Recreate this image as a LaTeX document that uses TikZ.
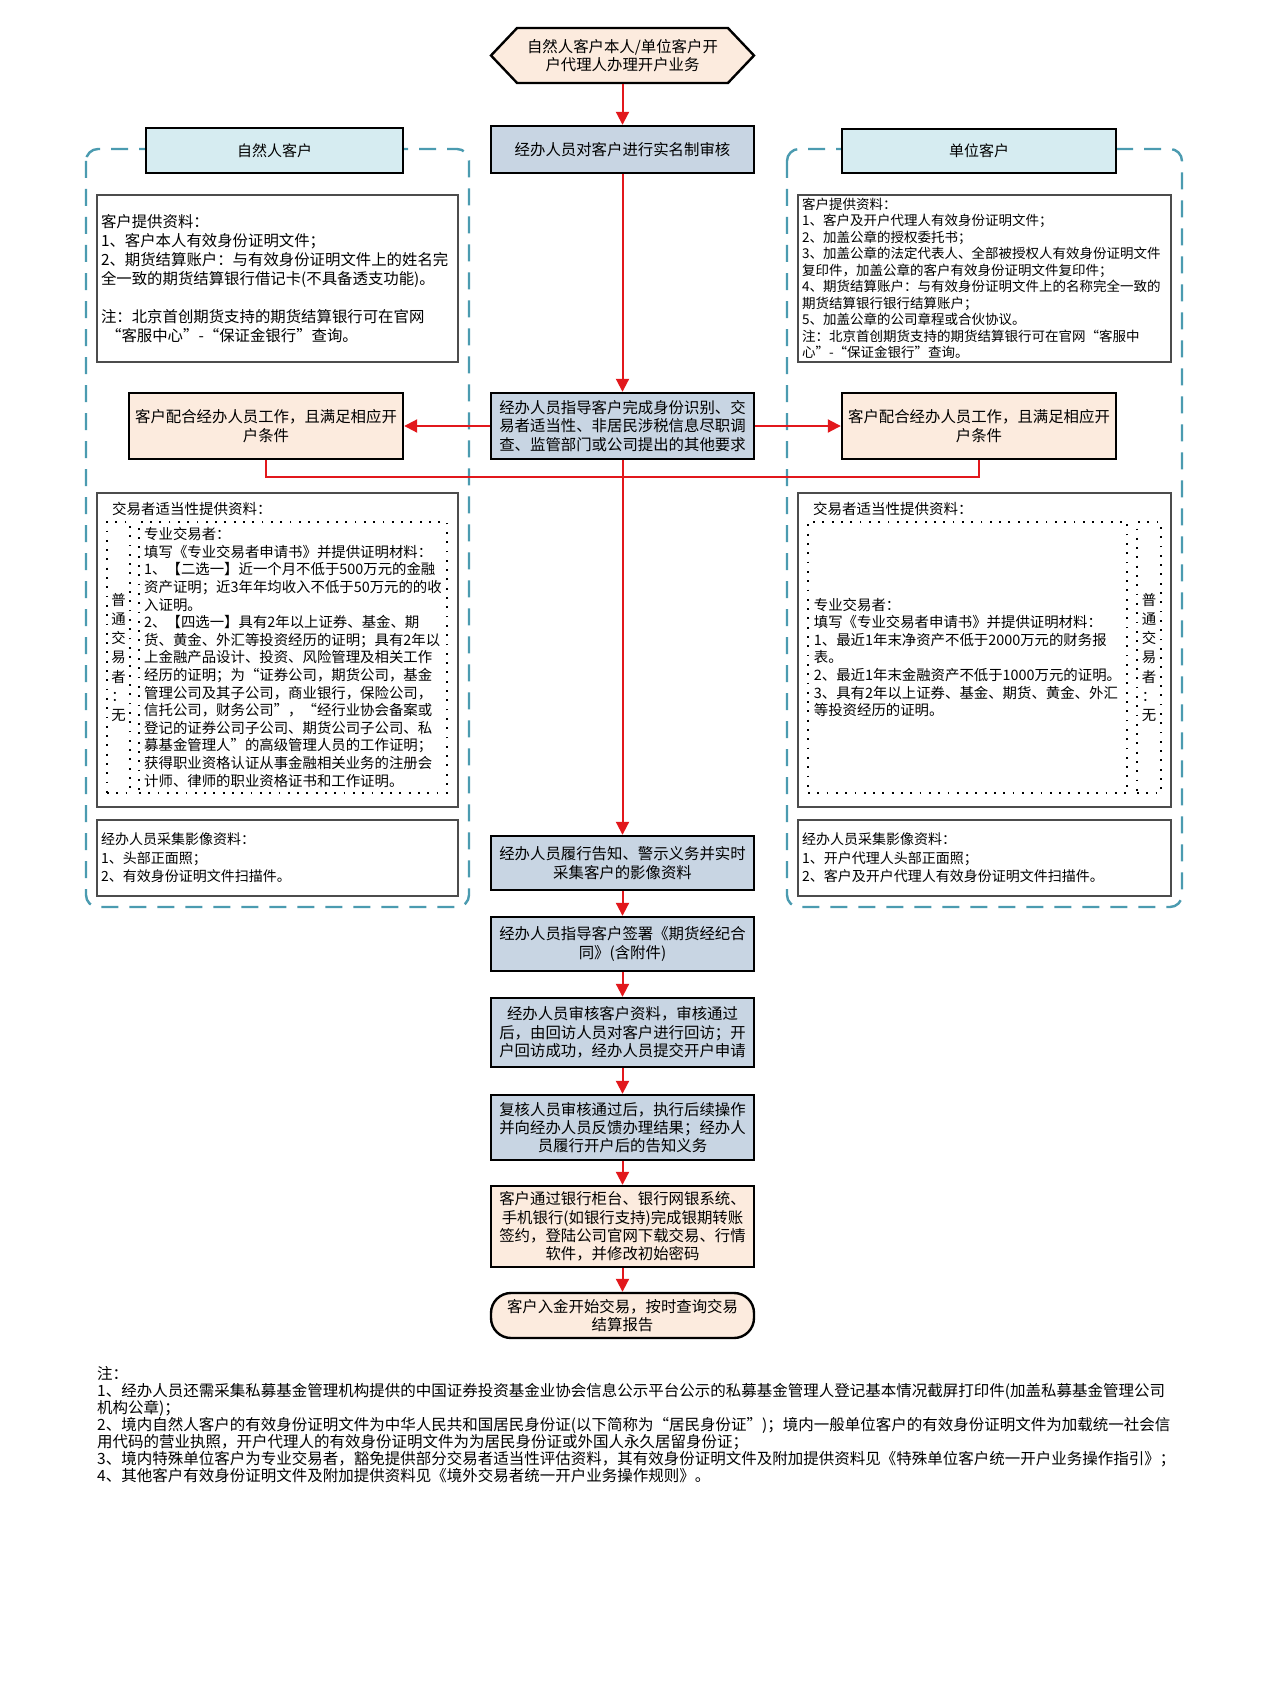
\documentclass[tikz,border=0pt]{standalone}
\usepackage{fontspec}
\setmainfont{Noto Sans CJK SC}
\usetikzlibrary{arrows.meta,shapes.symbols}
\definecolor{flowred}{RGB}{226,24,28}
\definecolor{stepblue}{RGB}{200,213,227}
\definecolor{headcyan}{RGB}{214,236,241}
\definecolor{peach}{RGB}{252,235,222}
\definecolor{groupteal}{RGB}{75,155,176}
\begin{document}
\begin{tikzpicture}[x=1pt, y=-1pt,
        flowbox/.style={draw, line width=2.4pt, fill=stepblue, minimum width=263pt, inner sep=0pt, align=center, font=\fontsize{15.4}{18.3}\selectfont},
        headbox/.style={flowbox, fill=headcyan, font=\fontsize{15}{18}\selectfont},
        peachbox/.style={flowbox, fill=peach, minimum width=274pt},
        infobox/.style={draw=black!70, line width=1.4pt, fill=white, inner xsep=4pt, inner ysep=0pt, align=left},
        dotcell/.style={draw, line width=1.8pt, dash pattern=on 1.8pt off 7.5pt, inner sep=0pt, minimum height=271pt, align=left, font=\fontsize{14.4}{17.6}\selectfont},
        customergroup/.style={draw=groupteal, line width=2.4pt, dash pattern=on 17pt off 11pt, rounded corners=12pt},
        flowline/.style={draw=flowred, line width=2pt},
        flowarrow/.style={flowline, -{Triangle[length=13pt, width=13pt]}}]
        \useasboundingbox[fill=white] (0,0) rectangle (1269,1704);
        \draw[customergroup] (86,149) rectangle (469,907);
        \draw[customergroup] (787,149) rectangle (1182,907);
        \node[flowbox, shape=signal, signal to=west and east, signal pointer angle=93, fill=peach, minimum height=55pt] (start) at (622.5,55.5) {自然人客户本人/单位客户开\\户代理人办理开户业务};
        \node[flowbox, minimum height=47pt] (realname) at (622.5,149.5) {经办人员对客户进行实名制审核};
        \node[flowbox, minimum height=66pt] (guide) at (622.5,426) {经办人员指导客户完成身份识别、交\\易者适当性、非居民涉税信息尽职调\\查、监管部门或公司提出的其他要求};
        \node[headbox, minimum width=257pt, minimum height=45pt] (nathead) at (274.5,150.5) {自然人客户};
        \node[headbox, minimum width=274pt, minimum height=44pt] (orghead) at (979,151) {单位客户};
        \node[infobox, text width=353pt, minimum height=167pt, font=\fontsize{15.4}{19}\selectfont] (natdocs) at (277.5,278.5) {客户提供资料：\\1、客户本人有效身份证明文件；\\2、期货结算账户：与有效身份证明文件上的姓名完\\全一致的期货结算银行借记卡(不具备透支功能)。\\[19pt]注：北京首创期货支持的期货结算银行可在官网\\\ “客服中心”-“保证金银行”查询。};
        \node[infobox, text width=365pt, minimum height=167pt, font=\fontsize{13.5}{16.5}\selectfont] (orgdocs) at (984.5,278.5) {客户提供资料：\\1、客户及开户代理人有效身份证明文件；\\2、加盖公章的授权委托书；\\3、加盖公章的法定代表人、全部被授权人有效身份证明文件\\复印件，加盖公章的客户有效身份证明文件复印件；\\4、期货结算账户：与有效身份证明文件上的名称完全一致的\\期货结算银行银行结算账户；\\5、加盖公章的公司章程或合伙协议。\\注：北京首创期货支持的期货结算银行可在官网“客服中\\心”-“保证金银行”查询。};
        \node[peachbox, minimum height=66pt] (natmeet) at (266,426) {客户配合经办人员工作，且满足相应开\\户条件};
        \node[peachbox, minimum height=66pt] (orgmeet) at (979,426) {客户配合经办人员工作，且满足相应开\\户条件};
        \node[infobox, minimum width=361pt, minimum height=314pt] (natsuit) at (277.5,650) {};
        \node[infobox, minimum width=373pt, minimum height=314pt] (orgsuit) at (984.5,650) {};
        \node[anchor=west, inner sep=0pt, font=\fontsize{14.5}{17}\selectfont] (natsuittitle) at (112,509) {交易者适当性提供资料：};
        \node[anchor=west, inner sep=0pt, font=\fontsize{14.5}{17}\selectfont] (orgsuittitle) at (813,509) {交易者适当性提供资料：};
        \node[dotcell, minimum width=23pt, font=\fontsize{14.4}{19.2}\selectfont] (natplain) at (118.5,657.5) {普\\通\\交\\易\\者\\：\\无};
        \node[dotcell, minimum width=308pt] (natpro) at (293,657.5) {专业交易者：\\填写《专业交易者申请书》并提供证明材料：\\1、【二选一】近一个月不低于500万元的金融\\资产证明；近3年年均收入不低于50万元的的收\\入证明。\\2、【四选一】具有2年以上证券、基金、期\\货、黄金、外汇等投资经历的证明；具有2年以\\上金融产品设计、投资、风险管理及相关工作\\经历的证明；为“证券公司，期货公司，基金\\管理公司及其子公司，商业银行，保险公司，\\信托公司，财务公司”，“经行业协会备案或\\登记的证券公司子公司、期货公司子公司、私\\募基金管理人”的高级管理人员的工作证明；\\获得职业资格认证从事金融相关业务的注册会\\计师、律师的职业资格证书和工作证明。};
        \node[dotcell, minimum width=319pt] (orgpro) at (967.5,657.5) {专业交易者：\\填写《专业交易者申请书》并提供证明材料：\\1、最近1年末净资产不低于2000万元的财务报\\表。\\2、最近1年末金融资产不低于1000万元的证明。\\3、具有2年以上证券、基金、期货、黄金、外汇\\等投资经历的证明。};
        \node[dotcell, minimum width=24pt, font=\fontsize{14.4}{19.2}\selectfont] (orgplain) at (1149,657.5) {普\\通\\交\\易\\者\\：\\无};
        \node[infobox, text width=353pt, minimum height=76pt, font=\fontsize{14}{18.3}\selectfont] (natimage) at (277.5,858) {经办人员采集影像资料：\\1、头部正面照；\\2、有效身份证明文件扫描件。};
        \node[infobox, text width=365pt, minimum height=76pt, font=\fontsize{14}{18.3}\selectfont] (orgimage) at (984.5,858) {经办人员采集影像资料：\\1、开户代理人头部正面照；\\2、客户及开户代理人有效身份证明文件扫描件。};
        \node[flowbox, minimum height=54pt] (notify) at (622.5,863) {经办人员履行告知、警示义务并实时\\采集客户的影像资料};
        \node[flowbox, minimum height=54pt] (contract) at (622.5,944) {经办人员指导客户签署《期货经纪合\\同》(含附件)};
        \node[flowbox, minimum height=69pt] (review) at (622.5,1032.5) {经办人员审核客户资料，审核通过\\后，由回访人员对客户进行回访；开\\户回访成功，经办人员提交开户申请};
        \node[flowbox, minimum height=65pt] (recheck) at (622.5,1127.5) {复核人员审核通过后，执行后续操作\\并向经办人员反馈办理结果；经办人\\员履行开户后的告知义务};
        \node[flowbox, fill=peach, minimum height=81pt] (bank) at (622.5,1226.5) {客户通过银行柜台、银行网银系统、\\手机银行(如银行支持)完成银期转账\\签约，登陆公司官网下载交易、行情\\软件，并修改初始密码};
        \node[flowbox, fill=peach, rounded corners=20pt, minimum height=45pt] (trade) at (622.5,1315.5) {客户入金开始交易，按时查询交易\\结算报告};
        \node[anchor=north west, inner sep=0pt, align=left, font=\fontsize{15.5}{17}\selectfont] (notes) at (97,1366) {注：\\1、经办人员还需采集私募基金管理机构提供的中国证券投资基金业协会信息公示平台公示的私募基金管理人登记基本情况截屏打印件(加盖私募基金管理公司\\机构公章)；\\2、境内自然人客户的有效身份证明文件为中华人民共和国居民身份证(以下简称为“居民身份证”)；境内一般单位客户的有效身份证明文件为加载统一社会信\\用代码的营业执照，开户代理人的有效身份证明文件为为居民身份证或外国人永久居留身份证；\\3、境内特殊单位客户为专业交易者，豁免提供部分交易者适当性评估资料，其有效身份证明文件及附加提供资料见《特殊单位客户统一开户业务操作指引》；\\4、其他客户有效身份证明文件及附加提供资料见《境外交易者统一开户业务操作规则》。};
        \coordinate (merge) at (622.5,477);
        \foreach \from/\to in {start/realname, realname/guide, guide/notify, notify/contract, contract/review, review/recheck, recheck/bank, bank/trade}
            \draw[flowarrow] (\from.south) -- (\to.north);
        \draw[flowarrow] (guide.west) -- (natmeet.east);
        \draw[flowarrow] (guide.east) -- (orgmeet.west);
        \draw[flowline] (natmeet.south) |- (merge) -| (orgmeet.south);
    \end{tikzpicture}
\end{document}
